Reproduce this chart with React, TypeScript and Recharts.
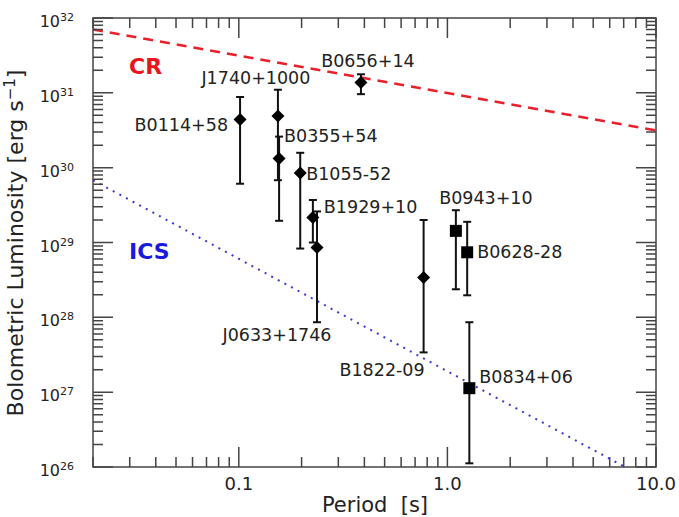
import React from "react";
import {
  ComposedChart,
  XAxis,
  YAxis,
  Scatter,
  Line,
  ErrorBar,
  Customized,
} from "recharts";

const W = 679;
const H = 517;
const MARGIN = { top: 18, right: 23, bottom: 0, left: 0 };
const Y_AXIS_W = 93;
const X_AXIS_H = 50;
const PLOT_TOP = MARGIN.top;
const PLOT_BOTTOM = H - MARGIN.bottom - X_AXIS_H;
const PLOT_LEFT = MARGIN.left + Y_AXIS_W;
const PLOT_RIGHT = W - MARGIN.right;

const FONT = "'DejaVu Sans', Verdana, sans-serif";
const INK = "#222";
const AXIS = "#444";

// pulsars: period [s], bolometric luminosity with lower / upper error ends [erg/s]
const NAMES = [
  "B0114+58", "J1740+1000", "B0355+54", "B1055-52", "B1929+10", "J0633+1746",
  "B0656+14", "B1822-09", "B0943+10", "B0628-28", "B0834+06",
];
const PERIOD = [0.1014, 0.154, 0.156, 0.197, 0.2265, 0.237, 0.385, 0.769, 1.098, 1.244, 1.274];
const LUM = [4.4e30, 4.9e30, 1.33e30, 8.5e29, 2.16e29, 8.6e28, 1.37e31, 3.4e28, 1.43e29, 7.4e28, 1.13e27];
const LUM_LO = [6.1e29, 6.8e29, 1.95e29, 8.3e28, 1.0e29, 8.6e27, 9.6e30, 3.4e27, 2.37e28, 1.97e28, 1.12e26];
const LUM_HI = [8.8e30, 1.1e31, 2.6e30, 1.58e30, 3.7e29, 2.6e29, 1.77e31, 2.0e29, 2.7e29, 1.89e29, 8.6e27];
const MARKER = ["d", "d", "d", "d", "d", "d", "d", "d", "s", "s", "s"];

// model lines (end points)
const CR_P = [0.02, 10];
const CR_L = [7.0e31, 3.15e30];
const ICS_P = [0.02, 7.1];
const ICS_L = [6.8e29, 1e26];

// axes
const X_MIN = 0.02;
const X_MAX = 10;
const Y_MIN = 1e26;
const Y_MAX = 1e32;
const X_MAJOR = [0.1, 1, 10];
const X_MAJOR_LABELS = ["0.1", "1.0", "10.0"];
const X_MINOR = [
  0.02, 0.03, 0.04, 0.05, 0.06, 0.07, 0.08, 0.09,
  0.2, 0.3, 0.4, 0.5, 0.6, 0.7, 0.8, 0.9,
  2, 3, 4, 5, 6, 7, 8, 9,
];
const Y_EXPONENTS = [26, 27, 28, 29, 30, 31, 32];
const MINOR_STEPS = [2, 3, 4, 5, 6, 7, 8, 9];

// label placement relative to the marker: dx, dy (baseline), anchor
const LABEL_POS: Record<string, [number, number, "start" | "middle" | "end"]> = {
  "B0114+58": [-12, 11, "end"],
  "J1740+1000": [-22, -32, "middle"],
  "B0355+54": [5, -16, "start"],
  "B1055-52": [6, 7, "start"],
  "B1929+10": [11, -4, "start"],
  "J0633+1746": [-40, 94, "middle"],
  "B0656+14": [7, -16, "middle"],
  "B1822-09": [1, 98, "end"],
  "B0943+10": [30, -27, "middle"],
  "B0628-28": [10, 6, "start"],
  "B0834+06": [10, -5, "start"],
};

const pulsars = NAMES.map((name, i) => ({
  name,
  p: PERIOD[i],
  l: LUM[i],
  err: [LUM[i] - LUM_LO[i], LUM_HI[i] - LUM[i]],
  marker: MARKER[i],
}));
const crData = CR_P.map((p, i) => ({ p, l: CR_L[i] }));
const icsData = ICS_P.map((p, i) => ({ p, l: ICS_L[i] }));

const xTicks = [...X_MINOR, ...X_MAJOR].sort((a, b) => a - b);
const yTicks: number[] = [];
Y_EXPONENTS.forEach((e, i) => {
  yTicks.push(Math.pow(10, e));
  if (i < Y_EXPONENTS.length - 1) MINOR_STEPS.forEach((m) => yTicks.push(m * Math.pow(10, e)));
});
const isMajorY = (v: number) => {
  const e = Math.round(Math.log10(v));
  return Math.abs(v - Math.pow(10, e)) / v < 1e-9;
};

// log positions for the frame tick decoration (overlay)
const xPos = (v: number) =>
  PLOT_LEFT +
  ((Math.log10(v) - Math.log10(X_MIN)) / (Math.log10(X_MAX) - Math.log10(X_MIN))) * (PLOT_RIGHT - PLOT_LEFT);
const yPos = (v: number) =>
  PLOT_BOTTOM -
  ((Math.log10(v) - Math.log10(Y_MIN)) / (Math.log10(Y_MAX) - Math.log10(Y_MIN))) * (PLOT_BOTTOM - PLOT_TOP);
const r2 = (n: number) => Math.round(n * 100) / 100;

// tick labels
const XTick = (props: any) => {
  const { x, payload } = props;
  const idx = X_MAJOR.indexOf(payload.value);
  if (idx < 0) return <g />;
  return (
    <text x={x} y={PLOT_BOTTOM + 23} textAnchor="middle" fontSize={18} fill={INK} fontFamily={FONT}>
      {X_MAJOR_LABELS[idx]}
    </text>
  );
};

const YTick = (props: any) => {
  const { y, payload } = props;
  const v = payload.value;
  if (!isMajorY(v)) return <g />;
  return (
    <text x={74} y={y + 9} textAnchor="end" fontSize={16} fill={INK} fontFamily={FONT}>
      <tspan>10</tspan>
      <tspan dy={-6} fontSize={11}>{Math.round(Math.log10(v))}</tspan>
    </text>
  );
};

const PulsarMark = (props: any) => {
  const { cx, cy, payload } = props;
  const [dx, dy, anchor] = LABEL_POS[payload.name];
  const r = 6.5;
  return (
    <g>
      {payload.marker === "s" ? (
        <rect x={cx - 6} y={cy - 6} width={12} height={12} fill="#000" />
      ) : (
        <polygon points={`${cx},${cy - r} ${cx + r},${cy} ${cx},${cy + r} ${cx - r},${cy}`} fill="#000" />
      )}
      <text x={cx + dx} y={cy + dy} textAnchor={anchor} fontSize={17.5} fill={INK} fontFamily={FONT}>
        {payload.name}
      </text>
    </g>
  );
};

const Annotations = () => (
  <g fontFamily={FONT}>
    <text x={129} y={74} fontSize={22} fontWeight="bold" fill="#e8141e">CR</text>
    <text x={129} y={259} fontSize={22} fontWeight="bold" fill="#1a1adc">ICS</text>
    <text x={375} y={512} textAnchor="middle" fontSize={21} fill={INK} style={{ whiteSpace: "pre" }}>
      {"Period  [s]"}
    </text>
    <text transform="translate(23,243) rotate(-90)" textAnchor="middle" fontSize={22} fill={INK}>
      <tspan>Bolometric Luminosity [erg s</tspan>
      <tspan dy={-8} fontSize={15}>−1</tspan>
      <tspan dy={8}>]</tspan>
    </text>
  </g>
);

// frame and inward ticks on a plain svg laid over the chart
const FrameOverlay = () => {
  let d = "";
  xTicks.forEach((v) => {
    const x = r2(xPos(v));
    const len = X_MAJOR.includes(v) ? 20 : 10;
    d += `M ${x} ${PLOT_BOTTOM} L ${x} ${PLOT_BOTTOM - len} M ${x} ${PLOT_TOP} L ${x} ${PLOT_TOP + len} `;
  });
  yTicks.forEach((v) => {
    const y = r2(yPos(v));
    const len = isMajorY(v) ? 20 : 10;
    d += `M ${PLOT_LEFT} ${y} L ${PLOT_LEFT + len} ${y} M ${PLOT_RIGHT} ${y} L ${PLOT_RIGHT - len} ${y} `;
  });
  return (
    <svg
      width={W}
      height={H}
      style={{ position: "absolute", left: 0, top: 0, pointerEvents: "none", zIndex: 5 }}
    >
      <path d={d} stroke={AXIS} strokeWidth={1.5} fill="none" />
      <rect
        x={PLOT_LEFT}
        y={PLOT_TOP}
        width={PLOT_RIGHT - PLOT_LEFT}
        height={PLOT_BOTTOM - PLOT_TOP}
        fill="none"
        stroke={AXIS}
        strokeWidth={1.5}
      />
    </svg>
  );
};

export default function App() {
  return (
    <div style={{ position: "absolute", left: 0, top: 0, width: W, height: H, background: "#fff" }}>
      <ComposedChart width={W} height={H} margin={MARGIN}>
        <XAxis
          dataKey="p"
          type="number"
          scale="log"
          domain={[X_MIN, X_MAX]}
          allowDataOverflow
          ticks={xTicks}
          interval={0}
          tick={<XTick />}
          tickLine={false}
          axisLine={false}
          height={X_AXIS_H}
        />
        <YAxis
          dataKey="l"
          type="number"
          scale="log"
          domain={[Y_MIN, Y_MAX]}
          allowDataOverflow
          ticks={yTicks}
          interval={0}
          tick={<YTick />}
          tickLine={false}
          axisLine={false}
          width={Y_AXIS_W}
        />
        <Line
          data={crData}
          dataKey="l"
          type="linear"
          stroke="#e8202a"
          strokeWidth={2.5}
          strokeDasharray="10 7"
          dot={false}
          isAnimationActive={false}
        />
        <Line
          data={icsData}
          dataKey="l"
          type="linear"
          stroke="#3a3acb"
          strokeWidth={2}
          strokeDasharray="2 5.5"
          dot={false}
          isAnimationActive={false}
        />
        <Scatter data={pulsars} shape={<PulsarMark />} isAnimationActive={false}>
          <ErrorBar dataKey="err" direction="y" width={4} stroke="#111" strokeWidth={2} isAnimationActive={false} />
        </Scatter>
        <Customized component={Annotations} />
      </ComposedChart>
      <FrameOverlay />
    </div>
  );
}
